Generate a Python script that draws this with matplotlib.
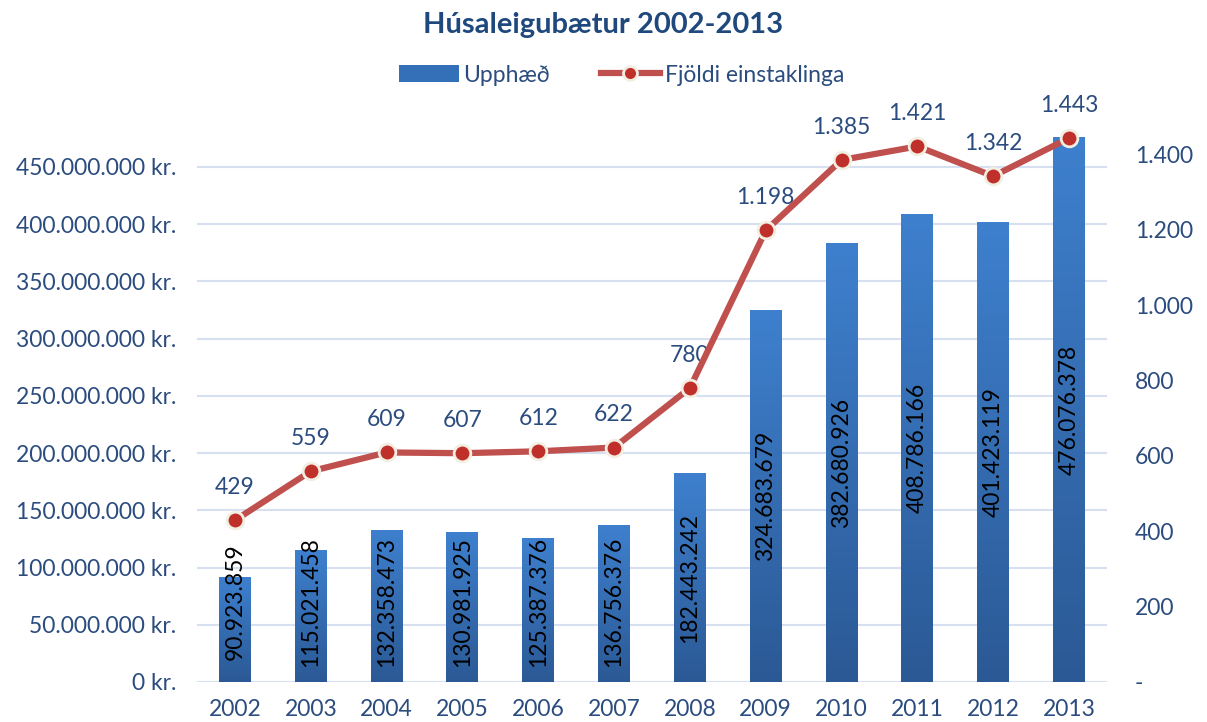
import matplotlib
matplotlib.use("Agg")
import matplotlib.pyplot as plt
import numpy as np
from matplotlib.lines import Line2D
from matplotlib.patches import Patch
from matplotlib.colors import LinearSegmentedColormap

years = ["2002", "2003", "2004", "2005", "2006", "2007", "2008", "2009", "2010", "2011", "2012", "2013"]
amounts = [90923859, 115021458, 132358473, 130981925, 125387376, 136756376,
           182443242, 324683679, 382680926, 408786166, 401423119, 476076378]
people = [429, 559, 609, 607, 612, 622, 780, 1198, 1385, 1421, 1342, 1443]
left_ticks = [0, 50e6, 100e6, 150e6, 200e6, 250e6, 300e6, 350e6, 400e6, 450e6]
right_ticks = [0, 200, 400, 600, 800, 1000, 1200, 1400]

FONT = ["Lato", "DejaVu Sans"]
plt.rcParams['font.family'] = FONT
TXT = "#2B4C7E"
LINE = "#C0504D"
FS = 16.5


def thousands(v):
    return f"{int(round(v)):,}".replace(",", ".")


fig = plt.figure(figsize=(12.07, 7.22), dpi=100)
ax = fig.add_axes([197/1207, 1-682/722, 910/1207, (682-120)/722])
ax2 = ax.twinx()

x = np.arange(len(years))
bars = ax.bar(x, amounts, width=0.42, color="#3470B8", zorder=2)

# gradient fill on bars
cmap = LinearSegmentedColormap.from_list("g", ["#2B5995", "#3E80CE"])
grad = np.linspace(0, 1, 256).reshape(-1, 1)
for b in bars:
    x0, w, h = b.get_x(), b.get_width(), b.get_height()
    ax.imshow(grad, extent=[x0, x0 + w, 0, h], origin="lower", aspect="auto",
              cmap=cmap, zorder=2.1)
    b.set_facecolor("none")

ax.set_xlim(-0.5, len(years) - 0.5)
ax.set_ylim(0, 491e6)
ax.set_yticks(left_ticks)
ax.set_yticklabels([thousands(v) + " kr." for v in left_ticks])
ax.set_xticks(x)
ax.set_xticklabels(years)
ax.grid(axis="y", color="#D6E0F0", linewidth=1.5, zorder=0)
ax.set_axisbelow(True)
for s in ax.spines.values():
    s.set_visible(False)
ax.tick_params(axis="both", length=0, colors=TXT, labelsize=FS)
ax.tick_params(axis="y", pad=15)
ax.tick_params(axis="x", pad=12)

# bar labels
for xi, v in zip(x, amounts):
    ax.text(xi, max(v / 2, 70e6), thousands(v), rotation=90, ha="center", va="center",
            fontsize=FS, color="black", zorder=5)

# line
ax2.plot(x, people, color=LINE, linewidth=4.5, marker="o", markersize=12,
         markerfacecolor="#C0302B", markeredgecolor="#F3EEE2", markeredgewidth=2,
         zorder=6, clip_on=False)
ax2.set_ylim(0, 1491)
ax2.set_yticks(right_ticks)
ax2.set_yticklabels(["-"] + [thousands(v) for v in right_ticks[1:]])
for s in ax2.spines.values():
    s.set_visible(False)
ax2.tick_params(axis="y", length=0, colors=TXT, labelsize=FS, pad=20)
for xi, v in zip(x, people):
    ax2.annotate(thousands(v), (xi, v), xytext=(0, 16), textcoords="offset points",
                 ha="center", va="bottom", fontsize=FS, color=TXT)

ax.set_zorder(1)
ax2.set_zorder(2)
ax2.patch.set_visible(False)

fig.text(0.5, 1 - 25/722, "Húsaleigubætur 2002-2013", ha="center", va="center",
         fontsize=21, fontweight="bold", color="#1F497D")

handles = [Patch(facecolor="#3470B8", edgecolor="none"),
           Line2D([], [], color=LINE, linewidth=4.5, marker="o", markersize=10,
                  markerfacecolor="#C0302B", markeredgecolor="#F3EEE2", markeredgewidth=2)]
fig.legend(handles, ["Upphæð", "Fjöldi einstaklinga"], loc="center",
           bbox_to_anchor=(0.515, 1 - 75/722), ncol=2, frameon=False, fontsize=FS,
           labelcolor=TXT, handlelength=2.6, handletextpad=0.2, columnspacing=2.2)

fig.savefig("out.png", dpi=100)
